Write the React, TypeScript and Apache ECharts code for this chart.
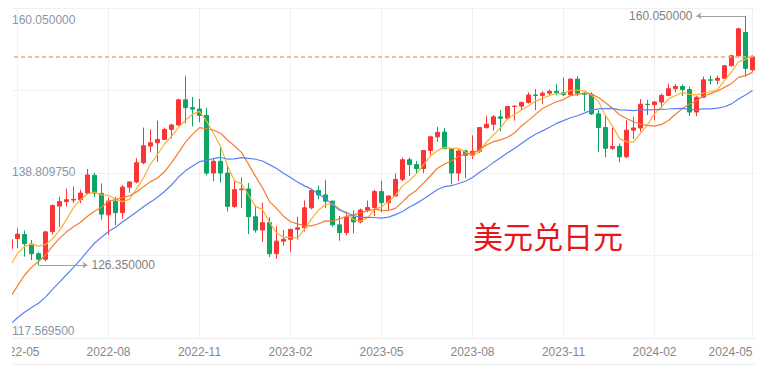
import { useEffect, useRef } from 'react';
import * as echarts from 'echarts';

// Weekly USD/JPY candles (week ending Friday)
const dates = [
  '2022-04-29','2022-05-06','2022-05-13','2022-05-20','2022-05-27','2022-06-03','2022-06-10','2022-06-17','2022-06-24','2022-07-01',
  '2022-07-08','2022-07-15','2022-07-22','2022-07-29','2022-08-05','2022-08-12','2022-08-19','2022-08-26','2022-09-02','2022-09-09',
  '2022-09-16','2022-09-23','2022-09-30','2022-10-07','2022-10-14','2022-10-21','2022-10-28','2022-11-04','2022-11-11','2022-11-18',
  '2022-11-25','2022-12-02','2022-12-09','2022-12-16','2022-12-23','2022-12-30','2023-01-06','2023-01-13','2023-01-20','2023-01-27',
  '2023-02-03','2023-02-10','2023-02-17','2023-02-24','2023-03-03','2023-03-10','2023-03-17','2023-03-24','2023-03-31','2023-04-07',
  '2023-04-14','2023-04-21','2023-04-28','2023-05-05','2023-05-12','2023-05-19','2023-05-26','2023-06-02','2023-06-09','2023-06-16',
  '2023-06-23','2023-06-30','2023-07-07','2023-07-14','2023-07-21','2023-07-28','2023-08-04','2023-08-11','2023-08-18','2023-08-25',
  '2023-09-01','2023-09-08','2023-09-15','2023-09-22','2023-09-29','2023-10-06','2023-10-13','2023-10-20','2023-10-27','2023-11-03',
  '2023-11-10','2023-11-17','2023-11-24','2023-12-01','2023-12-08','2023-12-15','2023-12-22','2023-12-29','2024-01-05','2024-01-12',
  '2024-01-19','2024-01-26','2024-02-02','2024-02-09','2024-02-16','2024-02-23','2024-03-01','2024-03-08','2024-03-15','2024-03-22',
  '2024-03-29','2024-04-05','2024-04-12','2024-04-19','2024-04-26','2024-05-03','2024-05-10',
];

const opens = [
  128.6,129.95,130.5,129.2,127.9,127.15,130.9,134.35,134.95,135.15,
  135.2,136.1,138.5,136.05,133.15,135.0,133.45,136.9,137.6,140.2,
  142.45,142.9,143.35,144.7,145.3,148.7,147.65,147.45,146.6,138.8,
  140.4,138.8,134.3,136.55,136.65,132.9,131.1,132.1,127.9,129.6,
  129.85,131.2,131.4,134.1,136.45,135.85,135.0,131.8,130.75,132.85,
  132.2,133.8,134.15,136.3,134.8,135.7,137.95,140.6,139.95,139.4,
  141.85,143.7,144.35,142.1,138.8,141.8,141.2,141.75,144.95,145.4,
  146.4,146.2,147.8,147.85,148.35,149.35,149.3,149.6,149.85,149.65,
  149.4,151.5,149.6,149.45,146.8,144.95,142.15,142.4,141.0,144.6,
  144.9,148.1,148.05,148.4,149.3,150.2,150.5,150.1,147.05,149.05,
  151.4,151.35,151.6,153.3,154.65,157.8,152.75,
];

const closes = [
  129.8,130.55,129.25,127.9,127.15,130.85,134.4,134.95,135.2,135.25,
  136.1,138.55,136.1,133.25,135.0,133.45,136.9,137.6,140.2,142.5,
  142.9,143.35,144.7,145.3,148.7,147.65,147.45,146.6,138.8,140.4,
  138.8,134.3,136.55,136.65,132.9,131.1,132.1,127.9,129.6,129.85,
  131.2,131.4,134.1,136.45,135.85,135.0,131.8,130.75,132.85,132.2,
  133.8,134.15,136.3,134.8,135.7,137.95,140.6,139.95,139.4,141.85,
  143.7,144.3,142.1,138.8,141.8,141.2,141.75,144.95,145.4,146.4,
  146.2,147.8,147.85,148.35,149.35,149.3,149.6,149.85,149.65,149.4,
  151.5,149.6,149.45,146.8,144.95,142.15,142.4,141.0,144.6,144.9,
  148.1,148.05,148.4,149.3,150.2,150.5,150.1,147.05,149.05,151.4,
  151.35,151.6,153.3,154.65,158.3,152.95,154.49,
];

const lows = [
  127.0,128.65,127.5,127.05,126.35,126.9,130.5,131.5,134.3,134.75,
  134.75,135.9,135.6,132.5,130.4,131.75,132.6,136.15,137.4,140.0,
  141.6,140.35,143.3,143.5,145.2,145.5,145.1,145.7,138.5,137.7,
  137.5,133.6,134.1,134.1,130.55,130.75,129.5,127.45,127.2,129.0,
  128.1,129.8,130.9,133.9,135.25,134.1,131.55,129.65,130.4,130.65,
  132.0,133.5,133.0,133.5,133.75,135.6,137.7,138.4,138.75,138.8,
  141.25,143.0,142.05,137.25,137.7,138.1,140.7,141.5,144.8,144.55,
  144.45,146.0,145.9,147.3,148.2,147.3,148.15,149.2,149.3,149.2,
  149.2,149.2,147.15,146.65,141.65,140.95,141.9,140.25,140.8,143.4,
  144.4,146.65,145.9,147.6,149.2,149.7,149.2,146.5,146.5,149.0,
  150.8,150.8,151.6,153.2,154.5,151.85,152.5,
];

const highs = [
  131.25,131.35,131.05,129.75,128.1,131.0,134.55,135.6,136.7,137.0,
  136.55,139.35,138.85,137.4,135.5,135.55,137.2,137.7,140.8,144.95,
  144.7,145.9,144.95,145.45,148.85,151.95,149.1,148.85,147.6,140.8,
  142.25,139.9,137.85,138.2,137.45,134.4,134.8,132.85,131.6,131.1,
  131.2,132.9,135.1,136.5,137.1,137.9,135.1,133.0,133.6,133.75,
  134.0,135.1,136.55,137.75,135.75,138.75,140.9,140.9,140.45,141.9,
  143.85,145.05,144.9,142.2,142.0,141.95,143.9,145.0,146.55,146.65,
  147.35,147.85,147.95,148.45,149.7,150.15,149.85,150.1,150.8,151.7,
  151.6,151.9,149.75,149.7,147.3,146.6,144.95,142.8,145.95,146.4,
  148.8,148.7,148.55,149.55,150.9,150.85,150.8,150.5,149.2,151.85,
  151.95,151.95,153.4,154.8,158.45,160.05,154.75,
];

// Weekly closes before the first visible week (feed the moving averages)
const priorCloses = [
  113.7,114.35,115.08,115.55,114.2,113.7,115.25,115.2,115.4,115.0,
  115.6,114.8,117.3,119.2,122.05,122.5,124.35,126.4,128.5,
];

const yTickLabels = ['117.569500', '138.809750', '160.050000'];
const xTickDates = ['2022-05-06','2022-08-05','2022-11-04','2023-02-03','2023-05-05','2023-08-04','2023-11-03','2024-02-02','2024-05-10'];
const title = '美元兑日元';

const UP = '#fa3534';
const DOWN = '#0ea463';
const FONT = "'Liberation Sans', Arial, sans-serif";

function movingAverage(n: number): number[] {
  const all = [...priorCloses, ...closes];
  return closes.map((_, i) => {
    const end = priorCloses.length + i;
    let s = 0;
    for (let k = end - n + 1; k <= end; k++) s += all[k];
    return +(s / n).toFixed(4);
  });
}

export default function App() {
  const ref = useRef<HTMLDivElement>(null);
  useEffect(() => {
    const chart = echarts.init(ref.current!, null, { renderer: 'svg' });
    const candles = dates.map((_, i) => [opens[i], closes[i], lows[i], highs[i]]);
    const yMin = parseFloat(yTickLabels[0]);
    const yMax = parseFloat(yTickLabels[2]);
    const pad = (yMax - yMin) * 0.025;
    const maxHigh = Math.max(...highs);
    const maxIdx = highs.indexOf(maxHigh);
    const minLow = Math.min(...lows);
    const minIdx = lows.indexOf(minLow);
    const lastClose = closes[closes.length - 1];
    const showTick = (_i: number, v: string) => xTickDates.includes(v);

    chart.setOption({
      animation: false,
      backgroundColor: '#ffffff',
      textStyle: { fontFamily: FONT },
      grid: { left: -5, right: 0, top: 0, bottom: 27, containLabel: false, outerBoundsMode: 'none' },
      xAxis: {
        type: 'category',
        data: dates,
        boundaryGap: true,
        axisLine: { show: true, lineStyle: { color: '#eeeeee' } },
        axisTick: { show: false },
        axisLabel: {
          interval: showTick,
          formatter: (v: string) => v.slice(0, 7),
          color: '#888888',
          fontSize: 12,
          fontFamily: FONT,
          margin: 8,
          alignMaxLabel: 'right',
        },
        splitLine: {
          show: true,
          interval: showTick,
          alignWithLabel: true,
          lineStyle: { color: '#f1f1f1', width: 1 },
        },
      },
      yAxis: [
        {
          type: 'value',
          min: 0,
          max: 4,
          interval: 1,
          position: 'left',
          axisLine: { show: false },
          axisTick: { show: false },
          splitLine: { show: true, lineStyle: { color: '#f1f1f1', width: 1 } },
          axisLabel: {
            inside: true,
            margin: 5,
            color: '#8c95a6',
            fontSize: 12,
            fontFamily: FONT,
            formatter: (v: number) => {
              const i = Math.round(v);
              if (i === 4) return `{t|${yTickLabels[2]}}`;
              if (i === 2) return `{m|${yTickLabels[1]}}`;
              if (i === 0) return `{b|${yTickLabels[0]}}`;
              return '';
            },
            rich: {
              t: { padding: [23, 0, 0, 0], color: '#8c95a6', fontSize: 12, fontFamily: FONT },
              m: { padding: [0, 0, 3, 0], color: '#8c95a6', fontSize: 12, fontFamily: FONT },
              b: { padding: [0, 0, 14, 0], color: '#8c95a6', fontSize: 12, fontFamily: FONT },
            },
          },
        },
        {
          type: 'value',
          min: yMin - pad,
          max: yMax + pad,
          show: false,
          splitLine: { show: false },
        },
      ],
      series: [
        {
          type: 'candlestick',
          yAxisIndex: 1,
          data: candles,
          barWidth: 5,
          itemStyle: {
            color: UP,
            color0: DOWN,
            borderColor: UP,
            borderColor0: DOWN,
            borderWidth: 1,
          },
          markLine: {
            silent: true,
            symbol: ['none', 'arrow'],
            symbolSize: 5,
            lineStyle: { color: '#a0a0a0', width: 1, type: 'solid' },
            label: { show: true, position: 'end', color: '#7f7f7f', fontSize: 12, fontFamily: FONT, distance: 4 },
            data: [
              [
                { coord: [dates[maxIdx], maxHigh] },
                { coord: [dates[maxIdx - 7], maxHigh], label: { formatter: maxHigh.toFixed(6) } },
              ],
              [
                { coord: [dates[minIdx], minLow] },
                { coord: [dates[minIdx + 7], minLow], label: { formatter: minLow.toFixed(6) } },
              ],
            ],
          },
        },
        {
          type: 'line',
          yAxisIndex: 1,
          data: movingAverage(5),
          showSymbol: false,
          symbol: 'none',
          lineStyle: { color: '#fbb12f', width: 1.2 },
          itemStyle: { color: '#fbb12f' },
        },
        {
          type: 'line',
          yAxisIndex: 1,
          data: movingAverage(10),
          showSymbol: false,
          symbol: 'none',
          lineStyle: { color: '#f47d2e', width: 1.2 },
          itemStyle: { color: '#f47d2e' },
        },
        {
          type: 'line',
          yAxisIndex: 1,
          data: movingAverage(20),
          showSymbol: false,
          symbol: 'none',
          lineStyle: { color: '#5b82f0', width: 1.2 },
          itemStyle: { color: '#5b82f0' },
          markLine: {
            silent: true,
            symbol: ['none', 'none'],
            label: { show: false },
            lineStyle: { color: '#fba66c', width: 1.6, type: [4, 3] },
            data: [{ yAxis: lastClose }],
          },
        },
      ],
      graphic: [
        {
          type: 'text',
          left: 461,
          top: 212,
          silent: true,
          style: {
            text: title,
            fontSize: 30,
            fill: '#e8151b',
            fontFamily: "'Noto Sans CJK SC', sans-serif",
          },
        },
        {
          type: 'line',
          silent: true,
          shape: { x1: 0, y1: 356.5, x2: 744, y2: 356.5 },
          style: { stroke: '#eeeeee', lineWidth: 1 },
        },
      ],
    });
    return () => chart.dispose();
  }, []);

  return (
    <div style={{ marginLeft: 4, width: 744, height: 357, overflow: 'hidden' }}>
      <div ref={ref} style={{ width: 744, height: 357 }} />
    </div>
  );
}
